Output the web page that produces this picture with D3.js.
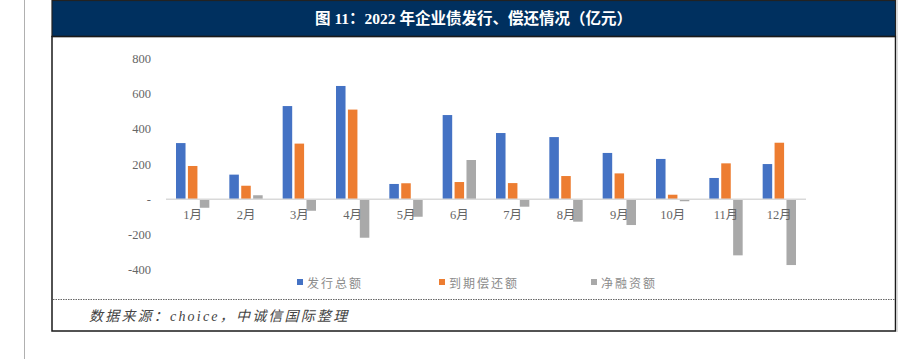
<!DOCTYPE html>
<html>
<head>
<meta charset="utf-8">
<script src="https://cdn.jsdelivr.net/npm/d3@7"></script>
<style>
  html, body { margin: 0; padding: 0; background: #fff; }
  svg { display: block; }
</style>
</head>
<body>
<svg width="909" height="359"></svg>
<script>
const months = ["1月", "2月", "3月", "4月", "5月", "6月", "7月", "8月", "9月", "10月", "11月", "12月"];
const seriesNames = ["发行总额", "到期偿还额", "净融资额"];
const issued = [319, 140, 529, 643, 87, 478, 376, 353, 263, 229, 121, 200];
const repaid = [189, 77, 316, 509, 91, 98, 92, 132, 147, 26, 204, 321];
const netFin = [-48, 23, -65, -218, -99, 223, -42, -127, -146, -11, -318, -373];
const yTickValues = [-400, -200, 0, 200, 400, 600, 800];
const colors = ["#4472c4", "#ed7d31", "#a9a9a9"];

const svg = d3.select("svg");
const serif = "'Liberation Serif', 'Noto Sans CJK SC', serif";
const cjk = "'Liberation Serif', 'Noto Sans CJK SC', sans-serif";

// outer frame
svg.append("line").attr("x1", 24.5).attr("x2", 24.5).attr("y1", 0).attr("y2", 359)
  .attr("stroke", "#b0b0b0").attr("stroke-width", 1);
svg.append("rect").attr("x", 52).attr("y", 0.5).attr("width", 843.5).attr("height", 36)
  .attr("fill", "#00305f").attr("stroke", "#222").attr("stroke-width", 1.2);
svg.append("rect").attr("x", 52).attr("y", 36.5).attr("width", 843.5).attr("height", 294.5)
  .attr("fill", "none").attr("stroke", "#1a1a1a").attr("stroke-width", 1.5);
svg.append("line").attr("x1", 897).attr("x2", 897).attr("y1", 0).attr("y2", 332)
  .attr("stroke", "#d0d0d0").attr("stroke-width", 1.5);
svg.append("line").attr("x1", 53).attr("x2", 895).attr("y1", 299.5).attr("y2", 299.5)
  .attr("stroke", "#666").attr("stroke-width", 1).attr("stroke-dasharray", "1.5,1");

svg.append("text").attr("x", 473.5).attr("y", 18.5)
  .attr("text-anchor", "middle").attr("dominant-baseline", "central")
  .attr("fill", "#fff").attr("font-size", 15.5).attr("font-weight", "bold")
  .attr("font-family", cjk)
  .text("图 11：2022 年企业债发行、偿还情况（亿元）");

// scales
const x0 = d3.scaleBand().domain(months).range([166, 806])
  .paddingInner(0.375).paddingOuter(0.1875);
const x1 = d3.scaleBand().domain(seriesNames).range([0, x0.bandwidth()]).paddingInner(0.2);
const y = d3.scaleLinear().domain([-400, 800]).range([269.8, 58.3]);

const rows = months.map((m, i) => ({
  month: m,
  values: [issued[i], repaid[i], netFin[i]].map((v, k) => ({ key: seriesNames[k], v, k }))
}));

// y axis
const yAxis = d3.axisLeft(y).tickValues(yTickValues).tickSize(0).tickPadding(15)
  .tickFormat(d => d === 0 ? "-" : d);
const gy = svg.append("g").attr("transform", "translate(166,0)").call(yAxis);
gy.select(".domain").remove();
gy.selectAll("text").attr("fill", "#666").attr("font-size", 12.5).attr("font-family", serif);

// bars
const groups = svg.append("g").selectAll("g").data(rows).join("g")
  .attr("transform", d => `translate(${x0(d.month)},0)`);
groups.selectAll("rect").data(d => d.values).join("rect")
  .attr("x", d => x1(d.key))
  .attr("width", x1.bandwidth())
  .attr("y", d => y(Math.max(0, d.v)))
  .attr("height", d => Math.abs(y(d.v) - y(0)))
  .attr("fill", d => colors[d.k]);

// x axis at zero
const xAxis = d3.axisBottom(x0).tickSize(0).tickPadding(11);
const gx = svg.append("g").attr("transform", `translate(0,${y(0)})`).call(xAxis);
gx.select(".domain").attr("stroke", "#d9d9d9").attr("stroke-width", 1.5)
  .attr("d", "M166,0H806");
gx.selectAll("text").attr("fill", "#666").attr("font-size", 12.5).attr("font-family", serif);

// legend
const legendX = [300, 442, 594];
const lg = svg.append("g").selectAll("g").data(seriesNames).join("g")
  .attr("transform", (d, i) => `translate(${legendX[i]},282)`);
lg.append("rect").attr("x", -3).attr("y", -3).attr("width", 6).attr("height", 6)
  .attr("fill", (d, i) => colors[i]);
lg.append("text").attr("x", 7).attr("y", 0).attr("dominant-baseline", "central")
  .attr("fill", "#8c8c8c").attr("font-size", 12).attr("letter-spacing", 2)
  .attr("font-family", "'Noto Sans CJK SC', sans-serif")
  .text(d => d);

// source note
svg.append("text").attr("x", 89).attr("y", 316).attr("dominant-baseline", "central")
  .attr("fill", "#444").attr("font-size", 14).attr("font-style", "italic")
  .attr("letter-spacing", 2.2)
  .attr("font-family", cjk)
  .text("数据来源：choice，中诚信国际整理");
</script>
</body>
</html>
